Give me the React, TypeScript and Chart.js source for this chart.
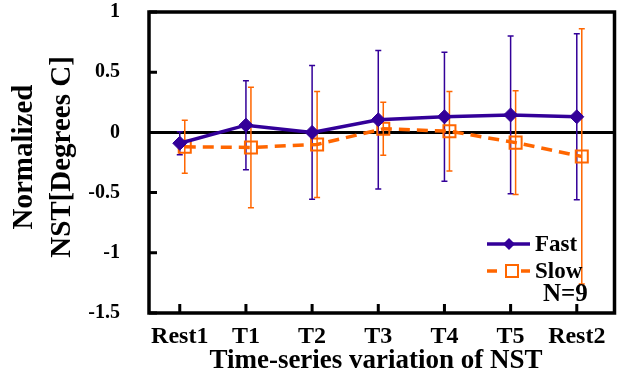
import React, { useEffect, useRef } from "react";
import { Chart, registerables } from "chart.js";

Chart.register(...registerables);

const categories = ["Rest1", "T1", "T2", "T3", "T4", "T5", "Rest2"];
const fastMean = [-0.09, 0.06, 0.0, 0.105, 0.13, 0.145, 0.13];
const fastErr = [0.095, 0.37, 0.555, 0.575, 0.535, 0.655, 0.69];
const slowMean = [-0.12, -0.125, -0.1, 0.03, 0.01, -0.085, -0.2];
const slowErr = [0.22, 0.5, 0.44, 0.22, 0.33, 0.43, 1.06];
const yTickValues = [-1.5, -1, -0.5, 0, 0.5, 1];

const BLUE = "#330099";
const ORANGE = "#FF6600";
const FONT = "'Liberation Serif', 'Times New Roman', serif";
const SLOW_SHIFT = 5;

const errorBars = [fastErr, slowErr];
const means = [fastMean, slowMean];

const customPlugin = {
  id: "custom",
  beforeDatasetsDraw(chart: any) {
    const { ctx, chartArea, scales } = chart;
    const x = scales.x;
    const y = scales.y;
    ctx.save();
    ctx.strokeStyle = "#000";
    ctx.lineWidth = 3;
    ctx.beginPath();
    const y0 = y.getPixelForValue(0);
    ctx.moveTo(chartArea.left, y0);
    ctx.lineTo(chartArea.right, y0);
    ctx.stroke();
    [BLUE, ORANGE].forEach((color, di) => {
      ctx.strokeStyle = color;
      ctx.lineWidth = 1.5;
      const shift = di === 1 ? SLOW_SHIFT : 0;
      means[di].forEach((m, i) => {
        const px = x.getPixelForValue(i) + shift;
        const top = y.getPixelForValue(m + errorBars[di][i]);
        const bot = y.getPixelForValue(m - errorBars[di][i]);
        ctx.beginPath();
        ctx.moveTo(px, top);
        ctx.lineTo(px, bot);
        ctx.moveTo(px - 3, top);
        ctx.lineTo(px + 3, top);
        ctx.moveTo(px - 3, bot);
        ctx.lineTo(px + 3, bot);
        ctx.stroke();
      });
    });
    ctx.restore();
  },
  beforeDatasetDraw(chart: any, args: any) {
    chart.ctx.save();
    if (args.index === 1) chart.ctx.translate(SLOW_SHIFT, 0);
  },
  afterDatasetDraw(chart: any) {
    chart.ctx.restore();
  },
  afterDraw(chart: any) {
    const { ctx, chartArea, scales } = chart;
    const x = scales.x;
    const y = scales.y;
    ctx.save();
    ctx.strokeStyle = "#000";
    ctx.lineWidth = 3.5;
    ctx.strokeRect(chartArea.left, chartArea.top, chartArea.right - chartArea.left, chartArea.bottom - chartArea.top);
    ctx.lineWidth = 3;
    ctx.beginPath();
    categories.forEach((_, i) => {
      const px = x.getPixelForValue(i);
      ctx.moveTo(px, chartArea.bottom);
      ctx.lineTo(px, chartArea.bottom - 9);
    });
    yTickValues.forEach((v) => {
      const py = y.getPixelForValue(v);
      ctx.moveTo(chartArea.left, py);
      ctx.lineTo(chartArea.left + 8, py);
    });
    ctx.stroke();

    // x category labels
    ctx.fillStyle = "#000";
    ctx.textAlign = "center";
    ctx.textBaseline = "alphabetic";
    ctx.font = `bold 24px ${FONT}`;
    categories.forEach((c, i) => {
      ctx.fillText(c, x.getPixelForValue(i), 343);
    });

    // axis titles
    ctx.font = `bold 27px ${FONT}`;
    ctx.fillText("Time-series variation of NST", 376, 368);
    ctx.font = `bold 29px ${FONT}`;
    ctx.textBaseline = "middle";
    ctx.save();
    ctx.translate(25, 157);
    ctx.rotate(-Math.PI / 2);
    ctx.fillText("Normalized", 0, 0);
    ctx.restore();
    ctx.save();
    ctx.translate(63, 157);
    ctx.rotate(-Math.PI / 2);
    ctx.fillText("NST[Degrees C]", 0, 0);
    ctx.restore();

    // legend
    ctx.textAlign = "left";
    ctx.font = `bold 23px ${FONT}`;
    ctx.strokeStyle = BLUE;
    ctx.lineWidth = 3.5;
    ctx.beginPath();
    ctx.moveTo(487, 244);
    ctx.lineTo(530, 244);
    ctx.stroke();
    ctx.fillStyle = BLUE;
    ctx.beginPath();
    ctx.moveTo(509, 238);
    ctx.lineTo(515, 244);
    ctx.lineTo(509, 250);
    ctx.lineTo(503, 244);
    ctx.closePath();
    ctx.fill();
    ctx.fillStyle = "#000";
    ctx.fillText("Fast", 535, 245);

    ctx.strokeStyle = ORANGE;
    ctx.lineWidth = 3.5;
    ctx.beginPath();
    ctx.moveTo(487, 271);
    ctx.lineTo(497, 271);
    ctx.moveTo(521, 271);
    ctx.lineTo(530, 271);
    ctx.stroke();
    ctx.lineWidth = 2;
    ctx.strokeRect(506, 265, 12, 12);
    ctx.fillStyle = "#000";
    ctx.fillText("Slow", 535, 272);
    ctx.font = `bold 25px ${FONT}`;
    ctx.fillText("N=9", 543, 295);
    ctx.restore();
  },
};

export default function App() {
  const ref = useRef<HTMLCanvasElement>(null);
  useEffect(() => {
    if (!ref.current) return;
    const chart = new Chart(ref.current, {
      type: "line",
      data: {
        datasets: [
          {
            label: "Fast",
            data: fastMean.map((v, i) => ({ x: i, y: v })),
            borderColor: BLUE,
            backgroundColor: BLUE,
            borderWidth: 3.5,
            pointStyle: "rectRot",
            pointRadius: 7,
            pointBorderWidth: 1,
            pointBackgroundColor: BLUE,
            pointBorderColor: BLUE,
            tension: 0,
            clip: false,
          },
          {
            label: "Slow",
            data: slowMean.map((v, i) => ({ x: i, y: v })),
            borderColor: ORANGE,
            backgroundColor: "rgba(0,0,0,0)",
            borderWidth: 3.5,
            borderDash: [11, 7],
            pointStyle: "rect",
            pointRadius: 8.5,
            pointBorderWidth: 2,
            pointBackgroundColor: "rgba(0,0,0,0)",
            pointBorderColor: ORANGE,
            tension: 0,
            clip: false,
          },
        ],
      },
      options: {
        responsive: false,
        animation: false,
        events: [],
        layout: { padding: { top: 12, right: 7, left: 0, bottom: 0 } },
        plugins: { legend: { display: false }, tooltip: { enabled: false }, title: { display: false } },
        scales: {
          x: {
            type: "linear",
            min: -0.465,
            max: 6.57,
            grid: { display: false },
            border: { display: false },
            afterBuildTicks: (s: any) => {
              s.ticks = categories.map((_, i) => ({ value: i }));
            },
            afterFit: (s: any) => {
              s.height = 61;
              s.paddingLeft = 0;
              s.paddingRight = 0;
            },
            ticks: { display: false },
          },
          y: {
            min: -1.5,
            max: 1,
            grid: { display: false },
            border: { display: false },
            afterBuildTicks: (s: any) => {
              s.ticks = yTickValues.map((v) => ({ value: v }));
            },
            afterFit: (s: any) => {
              s.width = 149;
              s.paddingTop = 0;
              s.paddingBottom = 0;
            },
            ticks: {
              padding: 21,
              color: "#000",
              font: { family: FONT, size: 20, weight: "bold" },
              callback: (v: any) => String(v),
            },
          },
        },
      },
      plugins: [customPlugin],
    });
    return () => chart.destroy();
  }, []);
  return (
    <div style={{ position: "fixed", left: 0, top: 0, width: 625, height: 374, background: "#fff" }}>
      <canvas ref={ref} width={625} height={374} />
    </div>
  );
}
